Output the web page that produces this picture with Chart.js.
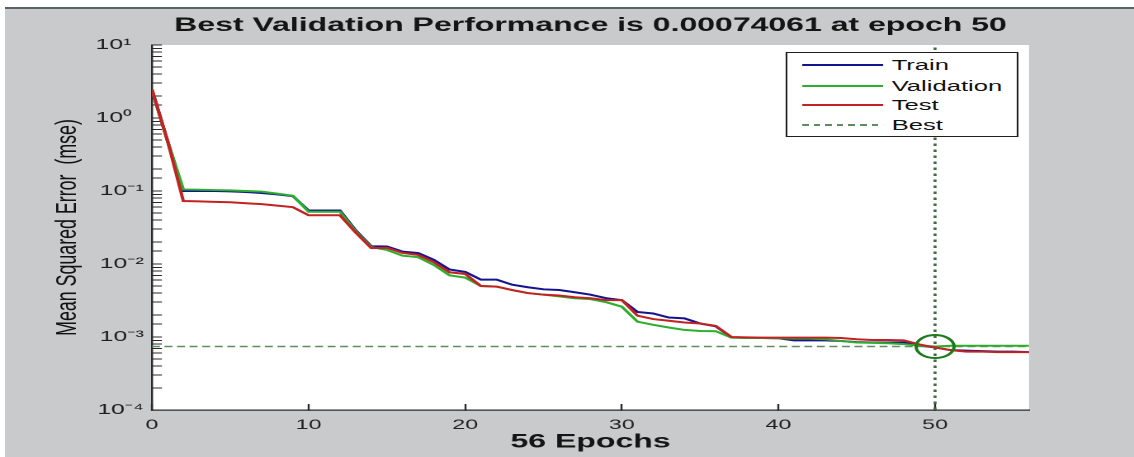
<!DOCTYPE html>
<html>
<head>
<meta charset="utf-8">
<script src="https://cdn.jsdelivr.net/npm/chart.js@4.4.1/dist/chart.umd.min.js"></script>
<style>
  html, body { margin:0; padding:0; background:#ffffff; }
  body { width:1134px; height:457px; overflow:hidden; position:relative; font-family:"Liberation Sans", Arial, sans-serif; }
  #frame { position:absolute; left:5px; top:7px; width:1129px; height:450px; background:#c9cacb; border-top:2px solid #5b6264; box-sizing:border-box; }
  #wrap { position:absolute; left:0; top:0; width:687px; height:457px; transform:scaleX(1.650655); transform-origin:0 0; }
  #legend { position:absolute; left:475.6px; top:51.7px; width:141.1px; height:85px; background:#ffffff; border:1px solid #1e1e1e; box-sizing:border-box; }
  .row { position:absolute; left:0; width:100%; height:18px; }
  .sample { position:absolute; left:9.1px; width:49.4px; top:8px; height:2px; }
  .txt { position:absolute; left:63.6px; top:0; line-height:18px; font-size:15.5px; color:#111; white-space:nowrap; }
</style>
</head>
<body>
<div id="frame"></div>
<div id="wrap">
  <canvas id="c"></canvas>
  <div id="legend"></div>
</div>
<script>
// ---------------- data ----------------
const epochs = [0,1,2,3,4,5,6,7,8,9,10,11,12,13,14,15,16,17,18,19,20,21,22,23,24,25,26,27,28,29,30,31,32,33,34,35,36,37,38,39,40,41,42,43,44,45,46,47,48,49,50,51,52,53,54,55,56];

const trainMse = [2.45,0.48,0.1,0.1,0.1,0.099,0.097,0.094,0.09,0.085,
  0.054,0.054,0.054,0.029,0.0175,0.0174,0.0148,0.0141,0.0114,0.0084,
  0.0078,0.0061,0.0061,0.0052,0.0048,0.0045,0.0044,0.0041,0.0038,0.0034,
  0.0032,0.0022,0.0021,0.00185,0.0018,0.00153,0.0014,0.00099,0.00097,0.00097,
  0.00096,0.0009,0.0009,0.0009,0.00088,0.00085,0.00084,0.00084,0.00084,0.00076,
  0.00072,0.00066,0.00065,0.00064,0.00063,0.00063,0.00062];

const validationMse = [2.4,0.48,0.105,0.104,0.103,0.102,0.1,0.098,0.092,0.086,
  0.052,0.052,0.052,0.028,0.017,0.0156,0.013,0.0124,0.0097,0.007,
  0.0065,0.005,0.0049,0.0044,0.004,0.0038,0.0036,0.0034,0.0033,0.003,
  0.0026,0.00162,0.00147,0.00135,0.00125,0.00121,0.0012,0.00098,0.00097,0.00097,
  0.00096,0.00095,0.00095,0.00093,0.00088,0.00084,0.00083,0.00082,0.0008,0.00076,
  0.00074061,0.00076,0.00076,0.00076,0.00076,0.00076,0.00076];

const testMse = [2.45,0.48,0.073,0.072,0.071,0.07,0.068,0.066,0.063,0.06,
  0.0466,0.0466,0.0466,0.027,0.0165,0.0167,0.0142,0.0133,0.0106,0.0077,
  0.0073,0.005,0.0049,0.0044,0.004,0.0038,0.0037,0.0035,0.0034,0.0032,
  0.0032,0.00196,0.00176,0.00167,0.00158,0.00153,0.00142,0.001,0.00099,0.00098,
  0.00098,0.00098,0.00098,0.00098,0.00097,0.00093,0.00091,0.00091,0.0009,0.00079,
  0.00072,0.00066,0.00063,0.00063,0.00062,0.00062,0.00062];

const bestEpoch = 50;
const bestPerf = 0.00074061;
const xRange = [0, 56];
const yRange = [1e-4, 10];
const xTicks = [0, 10, 20, 30, 40, 50];
const yMajorTicks = [1e-4, 1e-3, 1e-2, 1e-1, 1, 10];
const yTickLabels = ['10\u207B\u2074', '10\u207B\u00B3', '10\u207B\u00B2', '10\u207B\u00B9', '10\u2070\u2002', '10\u00B9\u2002'];
const seriesNames = ['Train', 'Validation', 'Test', 'Best'];
const chartTitle = 'Best Validation Performance is 0.00074061 at epoch 50';
const xTitle = '56 Epochs';
const yTitle = 'Mean Squared Error  (mse)';

// ---------------- styles ----------------
const COL = { train:'#14148c', validation:'#2eae2e', test:'#c42222', best:'#5f8d5f', bestV:'#3f6a3f', circle:'#1c7a1c', axis:'#2a2a2a', text:'#151515' };
const FAMILY = '"Liberation Sans", Arial, sans-serif';

function yTitleFont() {
  const c = document.createElement('canvas').getContext('2d');
  c.font = '100px "Liberation Sans Narrow", monospace';
  const w1 = c.measureText(yTitle).width;
  c.font = '100px monospace';
  const w2 = c.measureText(yTitle).width;
  const fam = (Math.abs(w1 - w2) > 0.5) ? '"Liberation Sans Narrow"' : '"Liberation Sans"';
  c.font = '100px ' + fam;
  const w = c.measureText(yTitle).width;
  const size = 217 * 100 / w;
  return { family: fam + ', sans-serif', size: size };
}
const yt = yTitleFont();

const pts = arr => arr.map((v, i) => ({ x: epochs[i], y: v }));

const plotBackground = {
  id: 'plotBackground',
  beforeDraw(chart) {
    const { ctx, chartArea: a } = chart;
    ctx.save();
    ctx.fillStyle = '#ffffff';
    ctx.fillRect(a.left, a.top, a.right - a.left, a.bottom - a.top);
    ctx.restore();
  }
};

new Chart(document.getElementById('c'), {
  type: 'line',
  data: {
    datasets: [
      { label: seriesNames[0], data: pts(trainMse), borderColor: COL.train, borderWidth: 2, pointRadius: 0, order: 3 },
      { label: seriesNames[1], data: pts(validationMse), borderColor: COL.validation, borderWidth: 2, pointRadius: 0, order: 2 },
      { label: seriesNames[2], data: pts(testMse), borderColor: COL.test, borderWidth: 2, pointRadius: 0, order: 1 },
      { label: seriesNames[3], data: [{ x: xRange[0], y: bestPerf }, { x: xRange[1], y: bestPerf }], borderColor: COL.best, borderWidth: 1.5, borderDash: [4.8, 2.8], pointRadius: 0, order: 5 },
      { label: 'Best epoch', data: [{ x: bestEpoch, y: yRange[0] }, { x: bestEpoch, y: yRange[1] }], borderColor: COL.bestV, borderWidth: 1.8, borderDash: [2.5, 3.5], pointRadius: 0, order: 4 },
      { label: 'Best point', data: [{ x: bestEpoch, y: bestPerf }], showLine: false, pointRadius: 11.5, pointBorderWidth: 2, pointBorderColor: COL.circle, pointBackgroundColor: 'rgba(0,0,0,0)', order: 0 }
    ]
  },
  options: {
    responsive: true,
    maintainAspectRatio: false,
    animation: false,
    devicePixelRatio: 2,
    events: [],
    layout: { padding: { left: 0, right: 63.6, top: 0, bottom: 0 } },
    plugins: {
      legend: { display: false },
      tooltip: { enabled: false },
      title: {
        display: true, text: chartTitle, fullSize: false, color: COL.text,
        font: { family: FAMILY, size: 19.4, weight: 'bold' },
        padding: { top: 13.86, bottom: 7.86 }
      }
    },
    scales: {
      x: {
        type: 'linear', min: xRange[0], max: xRange[1],
        afterFit: s => { s.height = 47; },
        afterBuildTicks: s => { s.ticks = xTicks.map(v => ({ value: v })); },
        border: { display: true, color: COL.axis, width: 1.3 },
        grid: { display: true, drawOnChartArea: false, drawTicks: true, tickLength: -6, tickColor: COL.axis, tickWidth: 1.2 },
        ticks: { autoSkip: false, maxRotation: 0, includeBounds: false, padding: 12.6, color: '#222', font: { family: FAMILY, size: 14 } },
        title: { display: true, text: xTitle, color: COL.text, font: { family: FAMILY, size: 19.4, weight: 'bold' }, padding: { top: 0, bottom: 3 } }
      },
      y: {
        type: 'logarithmic', min: yRange[0], max: yRange[1],
        afterFit: s => { s.width = 92.08; },
        border: { display: true, color: COL.axis, width: 1.2 },
        grid: { display: true, drawOnChartArea: false, drawTicks: true, tickLength: -6, tickColor: COL.axis, tickWidth: 1 },
        ticks: {
          autoSkip: false, padding: 11, color: '#1e1e1e', font: { family: FAMILY, size: 15 },
          callback: (value) => {
            const i = yMajorTicks.findIndex(t => Math.abs(Math.log10(value) - Math.log10(t)) < 1e-6);
            return i >= 0 ? yTickLabels[i] : '';
          }
        },
        title: { display: true, text: yTitle, color: '#111', font: { family: yt.family, size: yt.size }, padding: { top: 40.9 - yt.size * 0.6, bottom: 0 } }
      }
    }
  },
  plugins: [plotBackground]
});

// ---------------- legend (HTML) ----------------
const legendRows = [
  { name: seriesNames[0], style: 'background:' + COL.train },
  { name: seriesNames[1], style: 'background:' + COL.validation },
  { name: seriesNames[2], style: 'background:' + COL.test },
  { name: seriesNames[3], style: 'height:1.6px;background:repeating-linear-gradient(to right,' + COL.best + ' 0 4px, transparent 4px 7px)' }
];
const rowTops = [3.1, 24, 43.5, 63.5];
const lg = document.getElementById('legend');
legendRows.forEach((r, i) => {
  const row = document.createElement('div');
  row.className = 'row';
  row.style.top = rowTops[i] + 'px';
  row.innerHTML = '<div class="sample" style="' + r.style + '"></div><div class="txt">' + r.name + '</div>';
  lg.appendChild(row);
});
</script>
</body>
</html>
